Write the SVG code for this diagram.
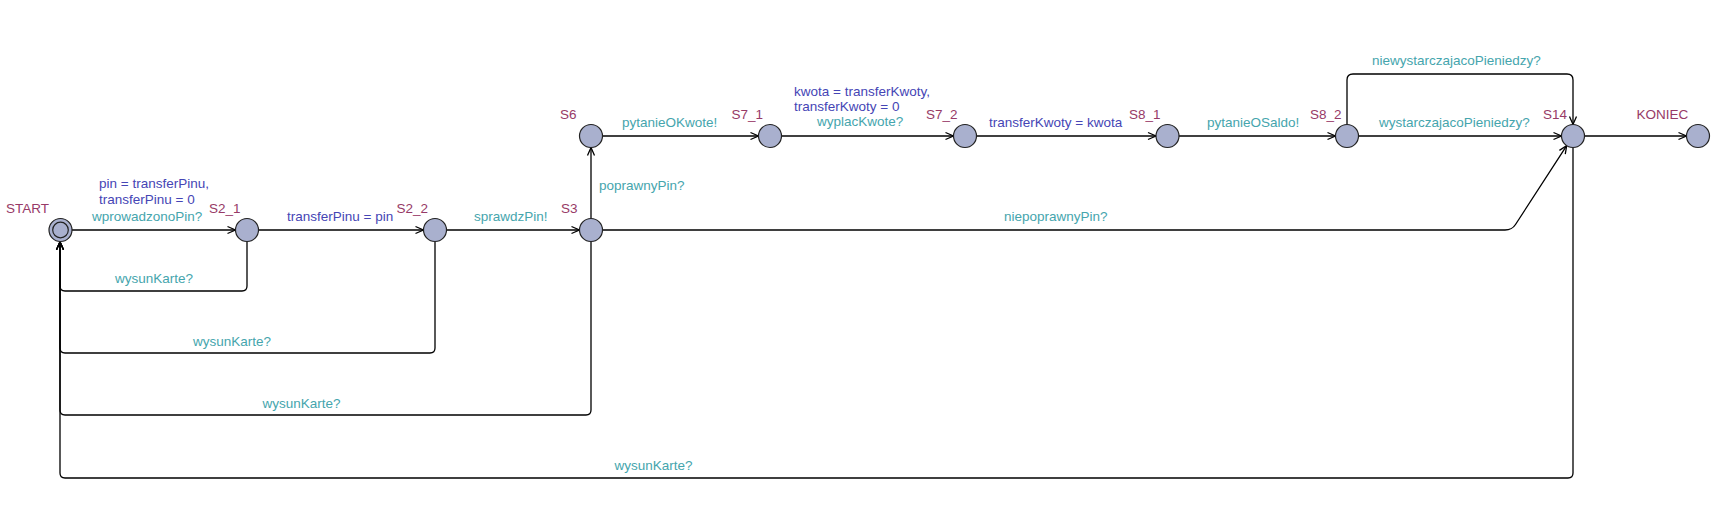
<svg xmlns="http://www.w3.org/2000/svg" width="1717" height="510" viewBox="0 0 1717 510">
<style>
text{font-family:"Liberation Sans",Arial,sans-serif;font-size:13.5px}
.name{fill:#973a67}
.sync{fill:#45a5ad}
.asg{fill:#4545b5}
.loc{fill:#a9b0ce;stroke:#222;stroke-width:1.2}
.edge{fill:none;stroke:#000;stroke-width:1.3;marker-end:url(#arr)}
</style>
<defs>
<marker id="arr" markerUnits="userSpaceOnUse" markerWidth="12" markerHeight="10" viewBox="-10 -5 12 10" refX="0" refY="0" orient="auto">
<path d="M-8,-3.5 L0,0 L-8,3.5" fill="none" stroke="#000" stroke-width="1.3"/>
</marker>
</defs>
<rect width="1717" height="510" fill="#fff"/>
<g id="connectors">
<path class="edge" d="M72,230 H235.5"/>
<path class="edge" d="M259,230 H423.5"/>
<path class="edge" d="M446.5,230 H579.5"/>
<path class="edge" d="M591,218.5 V147.5"/>
<path class="edge" d="M602.5,136 H758.5"/>
<path class="edge" d="M781.5,136 H953.5"/>
<path class="edge" d="M976.5,136 H1156"/>
<path class="edge" d="M1179,136 H1335.5"/>
<path class="edge" d="M1358.5,136 H1561.5"/>
<path class="edge" d="M1585,136 H1686.5"/>
<path class="edge" d="M1347,124.5 V80 Q1347,74 1353,74 H1567 Q1573,74 1573,80 V124.5"/>
<path class="edge" d="M602.5,230 H1505 Q1512,230 1515.5,224.5 L1566.7,145.6"/>
<path class="edge" d="M247,241.5 V286 Q247,291 242,291 H65 Q60,291 60,286 V241.8"/>
<path class="edge" d="M435,241.5 V348 Q435,353 430,353 H65 Q60,353 60,348 V241.8"/>
<path class="edge" d="M591,241.5 V410 Q591,415 586,415 H65 Q60,415 60,410 V241.8"/>
<path class="edge" d="M1573,147.5 V473 Q1573,478 1568,478 H65 Q60,478 60,473 V241.8"/>
<text class="asg" x="99" y="188">pin = transferPinu,</text>
<text class="asg" x="99" y="203.5">transferPinu = 0</text>
<text class="sync" x="92" y="221">wprowadzonoPin?</text>
<text class="asg" x="287" y="220.5">transferPinu = pin</text>
<text class="sync" x="474" y="220.5">sprawdzPin!</text>
<text class="sync" x="599" y="189.5">poprawnyPin?</text>
<text class="sync" x="622" y="127">pytanieOKwote!</text>
<text class="asg" x="794" y="96">kwota = transferKwoty,</text>
<text class="asg" x="794" y="110.5">transferKwoty = 0</text>
<text class="sync" x="817" y="125.5">wyplacKwote?</text>
<text class="asg" x="989" y="127">transferKwoty = kwota</text>
<text class="sync" x="1207" y="126.5">pytanieOSaldo!</text>
<text class="sync" x="1372" y="64.5">niewystarczajacoPieniedzy?</text>
<text class="sync" x="1379" y="126.5">wystarczajacoPieniedzy?</text>
<text class="sync" x="1004" y="220.5">niepoprawnyPin?</text>
<text class="sync" x="154" y="282.5" text-anchor="middle">wysunKarte?</text>
<text class="sync" x="232" y="345.5" text-anchor="middle">wysunKarte?</text>
<text class="sync" x="301.5" y="407.5" text-anchor="middle">wysunKarte?</text>
<text class="sync" x="653.5" y="470" text-anchor="middle">wysunKarte?</text>
</g>
<g id="START"><circle class="loc" cx="60.5" cy="230" r="11.5"/><circle cx="60.5" cy="230" r="7.8" fill="none" stroke="#222" stroke-width="1.2"/><text class="name" x="6" y="212.5">START</text></g>
<g id="S2_1"><circle class="loc" cx="247" cy="230" r="11.5"/><text class="name" x="209" y="212.5">S2_1</text></g>
<g id="S2_2"><circle class="loc" cx="435" cy="230" r="11.5"/><text class="name" x="396.5" y="212.5">S2_2</text></g>
<g id="S3"><circle class="loc" cx="591" cy="230" r="11.5"/><text class="name" x="561" y="213">S3</text></g>
<g id="S6"><circle class="loc" cx="591" cy="136" r="11.5"/><text class="name" x="560" y="119">S6</text></g>
<g id="S7_1"><circle class="loc" cx="770" cy="136" r="11.5"/><text class="name" x="731.5" y="119">S7_1</text></g>
<g id="S7_2"><circle class="loc" cx="965" cy="136" r="11.5"/><text class="name" x="926" y="119">S7_2</text></g>
<g id="S8_1"><circle class="loc" cx="1167.5" cy="136" r="11.5"/><text class="name" x="1129" y="119">S8_1</text></g>
<g id="S8_2"><circle class="loc" cx="1347" cy="136" r="11.5"/><text class="name" x="1310" y="118.5">S8_2</text></g>
<g id="S14"><circle class="loc" cx="1573" cy="136" r="11.5"/><text class="name" x="1543" y="118.5">S14</text></g>
<g id="KONIEC"><circle class="loc" cx="1698" cy="136" r="11.5"/><text class="name" x="1636.5" y="118.5">KONIEC</text></g>
</svg>
